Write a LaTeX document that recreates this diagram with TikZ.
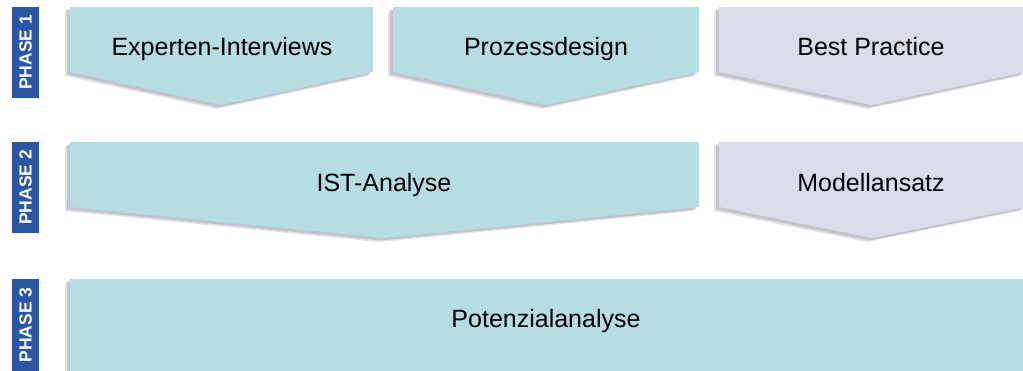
\documentclass[tikz,border=0pt]{standalone}
\usepackage{fontspec}
\setmainfont{Liberation Sans}
\definecolor{teal}{HTML}{B5DDE3}
\definecolor{lav}{HTML}{DADDE9}
\definecolor{phaseblue}{HTML}{2B56A3}
\definecolor{shad}{HTML}{8A8A9A}
\tikzset{
  lbl/.style={font=\fontsize{25}{28}\selectfont, text=black, inner sep=0pt, anchor=base},
  phase/.style={fill=phaseblue, text=white, font=\fontsize{17.5}{19}\bfseries, rotate=90, minimum width=91pt, minimum height=27pt, inner sep=0pt},
  sh1/.style={fill=shad, opacity=0.25},
  sh2/.style={fill=shad, opacity=0.35},
}
\begin{document}
\begin{tikzpicture}[x=1pt,y=-1pt]
\useasboundingbox (0,0) rectangle (1023,371);
% shadows
\foreach \dx/\dy/\st in {-5/4/sh1,-3/2.5/sh2}{
  \fill[\st] ([shift={(\dx,\dy)}]70,7) -- ++(303,0) -- ++(0,65) -- ++(-151.5,33) -- ++(-151.5,-33) -- cycle;
  \fill[\st] ([shift={(\dx,\dy)}]393,7) -- ++(306,0) -- ++(0,65) -- ++(-153,33) -- ++(-153,-33) -- cycle;
  \fill[\st] ([shift={(\dx,\dy)}]719,7) -- ++(306,0) -- ++(0,65) -- ++(-153,33) -- ++(-153,-33) -- cycle;
  \fill[\st] ([shift={(\dx,\dy)}]70,142) -- ++(629,0) -- ++(0,65) -- ++(-315,31) -- ++(-314,-31) -- cycle;
  \fill[\st] ([shift={(\dx,\dy)}]719,142) -- ++(306,0) -- ++(0,65) -- ++(-153,31) -- ++(-153,-31) -- cycle;
  \fill[\st] ([shift={(\dx,\dy)}]70,279) rectangle ++(960,100);
}
% shapes
\fill[teal] (70,7) -- (373,7) -- (373,72) -- (221.5,105) -- (70,72) -- cycle;
\fill[teal] (393,7) -- (699,7) -- (699,72) -- (546,105) -- (393,72) -- cycle;
\fill[lav] (719,7) -- (1025,7) -- (1025,72) -- (872,105) -- (719,72) -- cycle;
\fill[teal] (70,142) -- (699,142) -- (699,207) -- (384,238) -- (70,207) -- cycle;
\fill[lav] (719,142) -- (1025,142) -- (1025,207) -- (872,238) -- (719,207) -- cycle;
\fill[teal] (70,279) rectangle (1030,380);
% texts
\node[lbl] (ei) at (222,56) {Experten-Interviews};
\node[lbl] (pd) at (546,56) {Prozessdesign};
\node[lbl] (bp) at (871,56) {Best Practice};
\node[lbl] (ist) at (384,192) {IST-Analyse};
\node[lbl] (ma) at (871,192) {Modellansatz};
\node[lbl] (pa) at (546,328) {Potenzialanalyse};
% phase labels
\node[phase] (p1) at (25.5,52.5) {PHASE 1};
\node[phase] (p2) at (25.5,187.5) {PHASE 2};
\node[phase] (p3) at (25.5,325) {PHASE 3};
\end{tikzpicture}
\end{document}
